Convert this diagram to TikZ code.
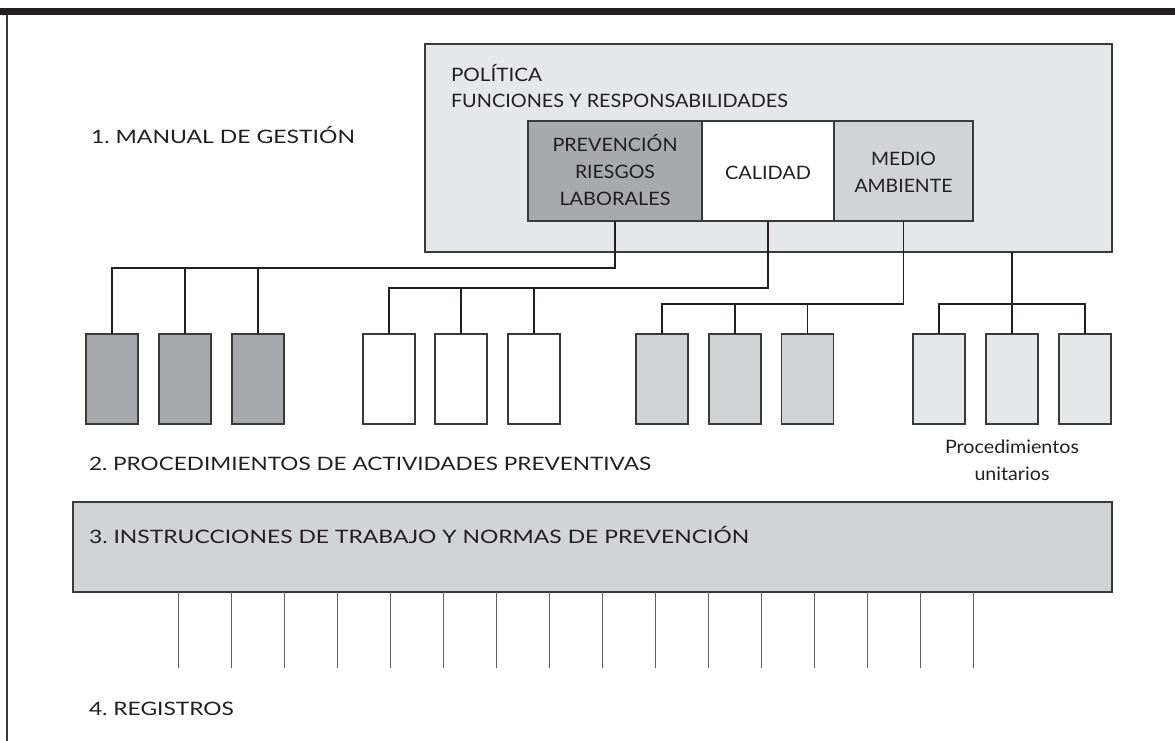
\documentclass[tikz,border=0pt]{standalone}
\usepackage{graphicx}
\usepackage{fontspec}
\setmainfont{Lato}
\definecolor{ink}{HTML}{231F20}
\definecolor{edge}{HTML}{3A3A3C}
\definecolor{darkfill}{HTML}{A7A9AC}
\definecolor{midfill}{HTML}{D1D3D4}
\definecolor{lightfill}{HTML}{E6E7E8}
\newsavebox{\fitbox}
\newcommand\fitto[2]{\sbox{\fitbox}{#2}\pgfmathsetmacro\fitfac{#1/\wd\fitbox}\scalebox{\fitfac}[1]{\usebox{\fitbox}}}
\begin{document}
\begin{tikzpicture}[x=1pt,y=-1pt,
  box/.style={draw=edge,line width=1.5pt,rectangle,inner sep=0pt,outer sep=0pt},
  small/.style={box,minimum width=52pt,minimum height=90pt},
  conn/.style={draw=ink,line width=1.2pt},
  reg/.style={draw=edge!80,line width=0.9pt},
  lbl/.style={inner sep=0pt,outer sep=0pt,text=ink,font=\fontsize{18.5}{22}\selectfont},
  lblc/.style={lbl,anchor=base,align=center},
  lblw/.style={lbl,anchor=base west}]
\useasboundingbox (0,0) rectangle (1175,741);
% top bar and left rule
\fill[ink] (0,8) rectangle (1175,15);
\draw[edge,line width=1.5pt] (7,15) -- (7,741);
% outer management box
\node[box,fill=lightfill,minimum width=687pt,minimum height=208pt] (outer) at (768.5,148) {};
\node[box,fill=darkfill,minimum width=174pt,minimum height=100pt] (prl) at (615,171) {};
\node[box,fill=white,minimum width=132pt,minimum height=100pt] (cal) at (768,171) {};
\node[box,fill=midfill,minimum width=139pt,minimum height=100pt] (med) at (903.5,171) {};
\node[lblw] (pol) at (451,82) {\fitto{91}{POLÍTICA}};
\node[lblw] (fun) at (451,108) {\fitto{337}{FUNCIONES Y RESPONSABILIDADES}};
\node[lblc] (prlt1) at (615,152) {\fitto{125}{PREVENCIÓN}};
\node[lblc] (prlt2) at (615,178) {\fitto{80}{RIESGOS}};
\node[lblc] (prlt3) at (615,205) {\fitto{111}{LABORALES}};
\node[lblc] (calt) at (768,179) {\fitto{86}{CALIDAD}};
\node[lblc] (medt1) at (903.5,165) {\fitto{65}{MEDIO}};
\node[lblc] (medt2) at (903.5,192) {\fitto{98}{AMBIENTE}};
\node[lblw] (l1) at (91,143) {\fitto{264}{1.\ MANUAL DE GESTIÓN}};
% procedure boxes
\foreach \n/\x in {a1/112,a2/185,a3/258}{\node[small,fill=darkfill] (\n) at (\x,379) {};}
\foreach \n/\x in {b1/389,b2/461,b3/534}{\node[small,fill=white] (\n) at (\x,379) {};}
\foreach \n/\x in {c1/662,c2/735,c3/807.5}{\node[small,fill=midfill] (\n) at (\x,379) {};}
\foreach \n/\x in {d1/939,d2/1012,d3/1085}{\node[small,fill=lightfill] (\n) at (\x,379) {};}
% connectors
\coordinate (ha) at (0,268);
\coordinate (hb) at (0,288);
\coordinate (hc) at (0,304);
\coordinate (hd) at (0,304);
\draw[conn] (prl.south) |- (a1.north |- ha) -- (a1.north);
\draw[conn] (a2.north |- ha) -- (a2.north);
\draw[conn] (a3.north |- ha) -- (a3.north);
\draw[conn] (cal.south) |- (b1.north |- hb) -- (b1.north);
\draw[conn] (b2.north |- hb) -- (b2.north);
\draw[conn] (b3.north |- hb) -- (b3.north);
\draw[conn] (med.south) |- (c1.north |- hc) -- (c1.north);
\draw[conn] (c2.north |- hc) -- (c2.north);
\draw[conn] (c3.north |- hc) -- (c3.north);
\draw[conn] (outer.south -| d2.north) -- (d2.north);
\draw[conn] (d1.north) -- (d1.north |- hd) -- (d3.north |- hd) -- (d3.north);
\node[lblc] (pu1) at (1012,453) {\fitto{134}{Procedimientos}};
\node[lblc] (pu2) at (1012,480) {\fitto{75}{unitarios}};
\node[lblw] (l2) at (89,470) {\fitto{562}{2.\ PROCEDIMIENTOS DE ACTIVIDADES PREVENTIVAS}};
% instructions band
\node[box,fill=midfill,minimum width=1039pt,minimum height=90pt] (band) at (592.5,547) {};
\node[lblw] (l3) at (89,543) {\fitto{660}{3.\ INSTRUCCIONES DE TRABAJO Y NORMAS DE PREVENCIÓN}};
\foreach \k in {0,...,15}{
  \coordinate (r\k) at ({178+53*\k},668);
  \draw[reg] (band.south -| r\k) -- (r\k);
}
\node[lblw] (l4) at (89,715) {\fitto{145}{4.\ REGISTROS}};
\end{tikzpicture}
\end{document}
